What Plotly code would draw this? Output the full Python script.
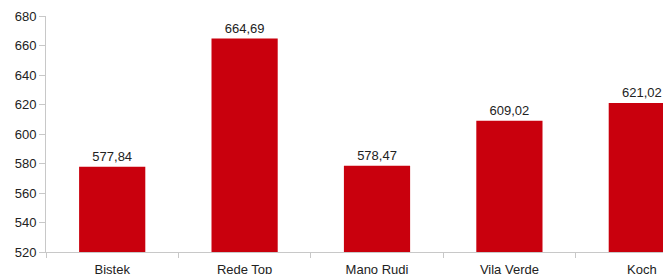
import plotly.graph_objects as go

categories = ["Bistek", "Rede Top", "Mano Rudi", "Vila Verde", "Koch"]
values = [577.84, 664.69, 578.47, 609.02, 621.02]
y_ticks = [520, 540, 560, 580, 600, 620, 640, 660, 680]

fig = go.Figure(go.Bar(
    x=categories, y=values,
    marker=dict(color="#C9000D", line=dict(width=0)),
    width=0.5,
    texttemplate="%{y:.2f}", textposition="outside",
    textfont=dict(family="Liberation Sans", size=13, color="#222222"),
    cliponaxis=False,
))

fig.update_layout(
    width=663, height=274,
    margin=dict(l=46, r=0, t=16, b=22, autoexpand=False),
    paper_bgcolor="white", plot_bgcolor="white",
    separators=",.",
    showlegend=False,
    font=dict(family="Liberation Sans", size=13, color="#222222"),
    xaxis=dict(
        type="category", range=[-0.5, 4.16], automargin=False,
        showline=True, linecolor="#c8c8c8", linewidth=1,
        ticks="outside", tickson="boundaries", ticklen=5, tickcolor="#c8c8c8",
        ticklabelstandoff=5,
        showgrid=False, tickfont=dict(size=13, color="#222222"),
    ),
    yaxis=dict(
        range=[520, 680], tickvals=y_ticks, automargin=False,
        showline=True, linecolor="#c8c8c8", linewidth=1,
        ticks="outside", ticklen=6, tickcolor="#c8c8c8",
        showgrid=False, zeroline=False, tickfont=dict(size=13, color="#222222"),
    ),
    bargap=0.5,
)

fig.write_html(
    "out.html",
    config={"displayModeBar": False},
    post_script="document.body.style.margin='0px';document.body.style.overflow='hidden';",
)
